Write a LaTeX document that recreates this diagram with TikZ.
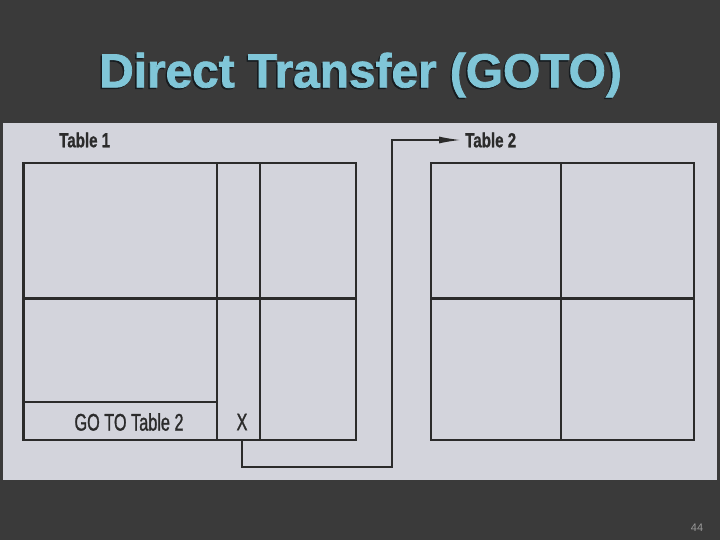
\documentclass[tikz,border=0pt]{standalone}
\usepackage{fontspec}
\setmainfont{Liberation Sans}
\newfontfamily\titlefont[FakeBold=1.6]{Liberation Sans}
\newfontfamily\labfont[FakeStretch=0.74,FakeBold=0.6]{Liberation Sans}
\newfontfamily\celfont[FakeStretch=0.68,FakeBold=1.2]{Liberation Sans}
\usetikzlibrary{arrows.meta}

\definecolor{slidebg}{HTML}{3A3A3A}
\definecolor{scanbg}{HTML}{D3D4DC}
\definecolor{ink}{HTML}{2B2B2B}
\definecolor{titleblue}{HTML}{80C6D8}
\definecolor{titleshade}{HTML}{161C20}
\definecolor{pagenum}{HTML}{9A9A9A}

\tikzset{
  tablebox/.style={draw=ink, line width=2.2bp, inner sep=0pt},
  gridline/.style={draw=ink, line width=2.2bp},
  link/.style={draw=ink, line width=1.6bp},
  tabname/.style={text=ink, font=\labfont\bfseries\fontsize{20.5}{22}\selectfont, inner sep=0pt},
  celltext/.style={text=ink, font=\celfont\fontsize{24}{26}\selectfont, inner sep=0pt},
  titletext/.style={font=\titlefont\bfseries\fontsize{48}{50}\selectfont, inner sep=0pt},
}

\begin{document}
\begin{tikzpicture}[x=1bp, y=-1bp]
    \useasboundingbox[fill=slidebg] (0,0) rectangle (720,540);
    \fill[scanbg] (3,123) rectangle (717,480);

    % title
    \node[titletext, text=titleshade] (titleshadow) at (359,76.5) {Direct Transfer (GOTO)};
    \node[titletext, text=titleblue] (title) at (360.5,75) {Direct Transfer (GOTO)};

    % table 1
    \node[tablebox, minimum width=332.5bp, minimum height=277bp] (t1) at (189.75,301.5) {};
    \node[tabname, anchor=west] (t1lab) at (59,140) {Table 1};
    \draw[gridline] (217,163) -- (217,440);
    \draw[gridline] (260,163) -- (260,440);
    \draw[gridline] (23.5,298.5) -- (356,298.5);
    \draw[gridline] (23.5,402) -- (217,402);
    \node[celltext] (goto) at (129,422) {GO TO Table 2};
    \node[celltext] (xmark) at (242,422) {X};

    % table 2
    \node[tablebox, minimum width=263bp, minimum height=277bp] (t2) at (562.5,301.5) {};
    \node[tabname, anchor=west] (t2lab) at (465,140) {Table 2};
    \draw[gridline] (561,163) -- (561,440);
    \draw[gridline] (431,298.5) -- (694,298.5);

    % transfer
    \coordinate (bend) at (392,467);
    \draw[link, -{Latex[length=22bp,width=7bp]}, shorten >=4bp] (xmark |- t1.south) |- (bend) |- (t2lab.west);

    \node[text=pagenum, font=\fontsize{11}{12}\selectfont] (page) at (697,528) {44};
\end{tikzpicture}
\end{document}
